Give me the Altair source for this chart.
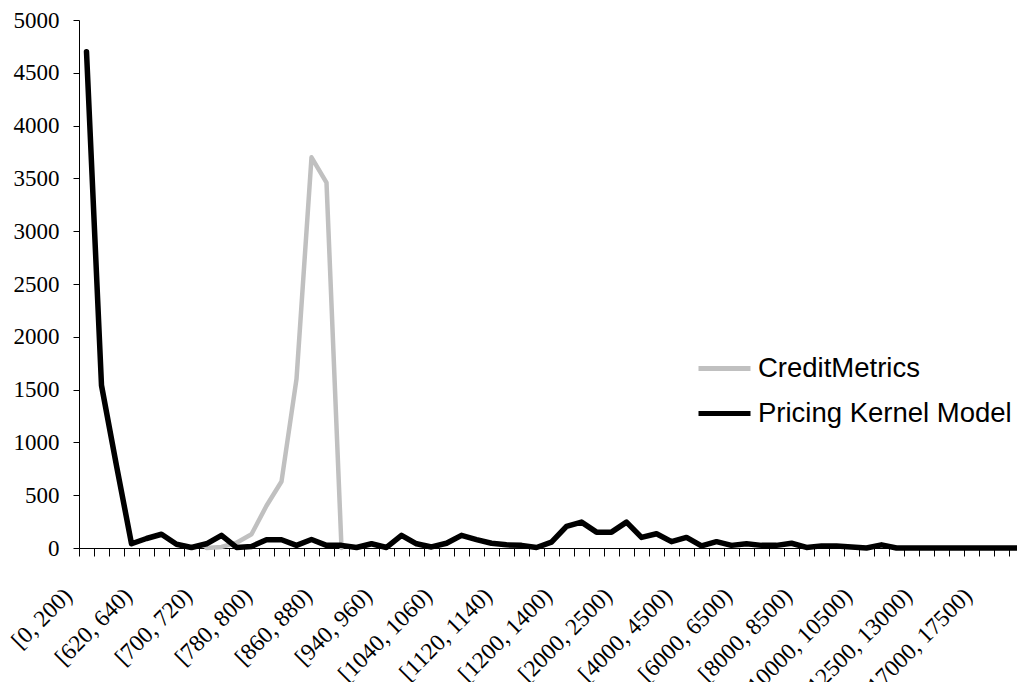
"""
    Line chart comparing CreditMetrics and the Pricing Kernel Model
    loss distributions over binned value ranges.
"""

import json
import pandas as pd
import altair as alt

# Category bins along the x axis (only every 4th is labelled)
categories = [
    "[0, 200)", "[200, 400)", "[400, 600)", "[600, 620)",
    "[620, 640)", "[640, 660)", "[660, 680)", "[680, 700)",
    "[700, 720)", "[720, 740)", "[740, 760)", "[760, 780)",
    "[780, 800)", "[800, 820)", "[820, 840)", "[840, 860)",
    "[860, 880)", "[880, 900)", "[900, 920)", "[920, 940)",
    "[940, 960)", "[960, 980)", "[980, 1000)", "[1000, 1040)",
    "[1040, 1060)", "[1060, 1080)", "[1080, 1100)", "[1100, 1120)",
    "[1120, 1140)", "[1140, 1160)", "[1160, 1180)", "[1180, 1200)",
    "[1200, 1400)", "[1400, 1600)", "[1600, 1800)", "[1800, 2000)",
    "[2000, 2500)", "[2500, 3000)", "[3000, 3500)", "[3500, 4000)",
    "[4000, 4500)", "[4500, 5000)", "[5000, 5500)", "[5500, 6000)",
    "[6000, 6500)", "[6500, 7000)", "[7000, 7500)", "[7500, 8000)",
    "[8000, 8500)", "[8500, 9000)", "[9000, 9500)", "[9500, 10000)",
    "[10000, 10500)", "[10500, 11000)", "[11000, 12000)", "[12000, 12500)",
    "[12500, 13000)", "[13000, 14000)", "[14000, 15500)", "[15500, 17000)",
    "[17000, 17500)", "[17500, 18000)", "[18000, 20000)",
]

# Pricing Kernel Model frequencies, one per category
kernel = [
    4700, 1540, 780, 40, 90, 130, 35, 5, 40, 120,
    5, 15, 78, 78, 25, 80, 25, 25, 5, 40,
    5, 120, 40, 10, 45, 120, 80, 45, 30, 25,
    5, 55, 205, 245, 150, 150, 245, 100, 135, 60,
    100, 20, 60, 25, 40, 25, 25, 45, 5, 20,
    20, 10, 0, 30, 0, 0, 0, 0, 0, 0,
    0, 0, 0,
]

# CreditMetrics only covers a narrow band of categories
credit_start = 8
credit = [0, 10, 50, 130, 400, 630, 1600, 3700, 3460, 0]

series_names = ["CreditMetrics", "Pricing Kernel Model"]


def build_frame() -> pd.DataFrame:
    """
    Long table: one row per (series, category index).
    """
    rows = []
    for i, v in enumerate(credit):
        rows.append({"idx": credit_start + i, "value": v, "series": series_names[0]})
    for i, v in enumerate(kernel):
        rows.append({"idx": i, "value": v, "series": series_names[1]})
    return pd.DataFrame(rows)


def make_chart(df: pd.DataFrame) -> alt.LayerChart:
    n = len(categories)
    # ticks sit on the category boundaries, labels every 4th category
    tick_vals = [k - 0.5 for k in range(n + 1)]
    shown = [categories[k] if (k % 4 == 0 and k < n) else "" for k in range(n + 1)]
    label_expr = json.dumps(shown) + "[datum.value + 0.5]"

    x = alt.X(
        "idx:Q",
        scale=alt.Scale(domain=[-0.5, n - 0.5], nice=False, zero=False),
        axis=alt.Axis(
            values=tick_vals, labelExpr=label_expr, title=None, grid=False,
            labelAngle=-45, labelAlign="right", labelBaseline="middle",
            labelPadding=36, labelOffset=-11, tickSize=8,
            labelOverlap=False, labelFlush=False,
            labelFont="Liberation Serif", labelFontSize=23.5, labelColor="black",
            domainColor="black", tickColor="black",
        ),
    )
    y = alt.Y(
        "value:Q",
        scale=alt.Scale(domain=[0, 5000], nice=False),
        axis=alt.Axis(
            values=list(range(0, 5001, 500)), format="d", title=None, grid=False,
            tickSize=6, labelPadding=14, labelOverlap=False, labelFlush=False,
            labelFont="Liberation Serif", labelFontSize=23, labelColor="black",
            domainColor="black", tickColor="black",
        ),
    )
    color = alt.Color(
        "series:N",
        scale=alt.Scale(domain=series_names, range=["#c0c0c0", "#000000"]),
        legend=alt.Legend(
            orient="none", legendX=617, legendY=320, title=None,
            symbolType="stroke", symbolSize=2704, symbolStrokeWidth=5,
            labelFont="Liberation Sans", labelFontSize=27.5, labelColor="black",
            labelOffset=5, labelLimit=400, rowPadding=3,
        ),
    )

    base = alt.Chart(df).encode(x=x, y=y, color=color)
    gray = base.transform_filter(alt.datum.series == series_names[0]).mark_line(
        strokeWidth=4.5, strokeCap="round", strokeJoin="round")
    black = base.transform_filter(alt.datum.series == series_names[1]).mark_line(
        strokeWidth=5.5, strokeCap="round", strokeJoin="round")

    # the plot runs a few pixels past the right edge, as in the original
    return alt.layer(gray, black).properties(
        width=945, height=528,
        autosize=alt.AutoSizeParams(type="none"),
        padding={"left": 71, "top": 12, "right": -7, "bottom": 134},
    ).configure_view(stroke=None)


if __name__ == "__main__":
    chart = make_chart(build_frame())
    chart.save("out.html", embed_options={"renderer": "svg", "actions": False})
